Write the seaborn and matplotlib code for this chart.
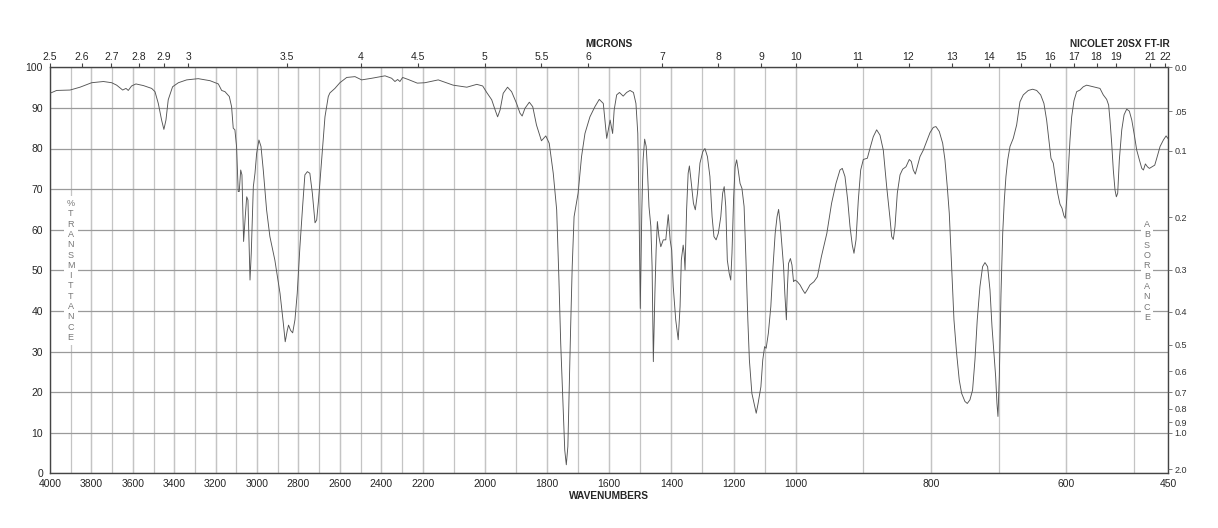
import numpy as np
import pandas as pd
import matplotlib
matplotlib.use("Agg")
import matplotlib.pyplot as plt
import seaborn as sns

# spectrum (cm-1, %T)
wavenumber = [
    4000, 3968, 3903, 3855, 3799, 3742, 3702, 3678, 3649, 3633, 3622, 3606, 3585, 3549,
    3509, 3493, 3477, 3461, 3450, 3440, 3429, 3408, 3380, 3340, 3284, 3227, 3187, 3171,
    3155, 3134, 3123, 3115, 3107, 3099, 3091, 3086, 3079, 3073, 3065, 3057, 3050, 3044,
    3034, 3028, 3018, 3010, 3002, 2991, 2981, 2970, 2954, 2938, 2914, 2889, 2873, 2864,
    2854, 2848, 2838, 2828, 2817, 2806, 2793, 2780, 2769, 2757, 2745, 2733, 2720, 2712,
    2703, 2688, 2672, 2656, 2648, 2624, 2600, 2567, 2527, 2495, 2446, 2382, 2350, 2334,
    2321, 2310, 2297, 2270, 2226, 2193, 2150, 2102, 2058, 2026, 2007, 1994, 1978, 1967,
    1959, 1951, 1941, 1927, 1914, 1898, 1887, 1880, 1871, 1857, 1846, 1834, 1818, 1804,
    1793, 1780, 1769, 1762, 1756, 1748, 1743, 1738, 1733, 1729, 1724, 1719, 1713, 1700,
    1689, 1678, 1662, 1646, 1632, 1619, 1608, 1597, 1589, 1584, 1576, 1567, 1555, 1544,
    1533, 1522, 1514, 1508, 1504, 1500, 1495, 1491, 1486, 1481, 1477, 1472, 1466, 1462,
    1458, 1453, 1449, 1445, 1440, 1434, 1426, 1418, 1410, 1404, 1399, 1394, 1386, 1378,
    1372, 1368, 1362, 1359, 1356, 1351, 1346, 1342, 1337, 1329, 1323, 1316, 1308, 1299,
    1292, 1284, 1276, 1269, 1263, 1256, 1249, 1241, 1235, 1230, 1225, 1220, 1214, 1209,
    1205, 1200, 1195, 1190, 1185, 1179, 1173, 1166, 1160, 1154, 1149, 1141, 1134, 1127,
    1121, 1112, 1106, 1100, 1095, 1088, 1080, 1073, 1066, 1060, 1055, 1050, 1044, 1039,
    1035, 1030, 1027, 1023, 1017, 1012, 1007, 1002, 997.6, 993.6, 989.7, 986.3, 982.9,
    978.9, 973, 968, 962, 954, 947, 940.5, 934.6, 931.2, 927.2, 923.2, 919.8, 916.4,
    913.9, 910.9, 907.5, 904, 900.1, 894.2, 890.3, 885.4, 880.4, 875.5, 870.6, 865.6,
    860.7, 858.2, 855.8, 853.3, 849.9, 845.9, 842.0, 837.1, 832.2, 829.2, 826.3, 823.3,
    820.4, 816.4, 811.5, 806.6, 801.6, 796.7, 792.8, 787.9, 782.9, 779.5, 776.1, 773.1,
    769.6, 766.2, 762.3, 758.4, 754.9, 750.0, 746.5, 742.6, 738.7, 735.2, 731.8, 727.8,
    723.9, 720.4, 716.5, 713.0, 710.0, 707.1, 704.6, 702.7, 701.2, 699.2, 696.7, 694.2,
    691.8, 689.4, 686.8, 683.4, 678.6, 673.6, 668.7, 663.8, 656.4, 650.0, 644.0, 638.1,
    633.3, 629.3, 625.4, 622.9, 619.5, 616.0, 613.0, 609.6, 606.6, 603.7, 601.8, 599.7,
    597.3, 594.8, 592.3, 588.9, 584.9, 580.0, 575.2, 570.2, 565.3, 560.4, 555.5, 550.5,
    545.6, 540.6, 537.7, 535.7, 533.2, 530.8, 528.3, 526.3, 524.3, 521.9, 518.3, 514.9,
    511.0, 507.1, 503.5, 500.1, 496.2, 492.3, 488.7, 486.3, 483.4, 480.4, 477.5, 473.5,
    469.6, 466.6, 461.7, 456.8, 452.8, 450.3,
]
transmittance = [
    93.6, 94.3, 94.4, 95.1, 96.2, 96.5, 96.2, 95.6, 94.4, 94.8, 94.3, 95.4, 95.9, 95.5,
    94.8, 94.0, 91.1, 87.0, 84.7, 87.0, 92.0, 95.2, 96.2, 96.9, 97.2, 96.7, 95.9, 94.3,
    94.0, 92.8, 90.3, 85.0, 84.6, 80.5, 69.4, 69.4, 74.7, 73.5, 57.1, 63.2, 68.1, 67.3,
    47.6, 54.2, 70.6, 73.9, 78.8, 82.1, 80.5, 74.7, 64.9, 58.3, 52.5, 44.3, 36.9, 32.4,
    35.2, 36.5, 35.2, 34.6, 37.8, 44.3, 55.8, 65.7, 73.5, 74.3, 73.9, 69.0, 61.7, 62.4,
    67.3, 77.2, 87.8, 92.8, 93.7, 94.8, 96.2, 97.5, 97.7, 96.9, 97.3, 97.9, 97.3, 96.5,
    97.0, 96.5, 97.5, 97.0, 96.1, 96.2, 96.9, 95.6, 95.1, 95.8, 95.4, 93.8, 92.0, 89.5,
    87.8, 89.5, 93.6, 95.1, 94.0, 91.1, 88.7, 88.0, 89.9, 91.4, 90.3, 85.8, 81.9, 83.1,
    81.3, 73.9, 64.9, 48.4, 32.0, 15.6, 5.7, 2.1, 6.6, 19.7, 36.1, 50.9, 63.2, 69.0,
    78.0, 83.7, 87.8, 90.3, 92.1, 91.1, 82.5, 87.0, 83.7, 89.5, 93.2, 93.8, 92.9, 93.8,
    94.3, 93.8, 91.1, 83.7, 64.9, 40.6, 64.9, 77.2, 82.3, 80.5, 74.7, 65.7, 60.8, 50.9,
    27.5, 44.3, 55.0, 62.0, 58.3, 55.8, 57.5, 57.5, 63.7, 57.5, 55.0, 46.0, 37.8, 32.9,
    41.1, 52.5, 56.2, 54.2, 50.1, 64.9, 73.9, 75.7, 72.3, 66.5, 64.9, 69.0, 76.4, 79.2,
    80.0, 78.0, 73.1, 63.2, 58.3, 57.5, 59.1, 63.2, 69.0, 70.6, 65.7, 52.5, 49.3, 47.6,
    54.2, 67.2, 75.5, 77.2, 74.7, 71.4, 70.2, 65.7, 52.5, 37.8, 27.9, 19.7, 17.2, 14.8,
    17.2, 21.3, 27.9, 31.2, 30.8, 34.5, 41.1, 50.9, 59.1, 63.2, 65.0, 61.6, 55.8, 50.9,
    44.3, 37.8, 45.2, 51.7, 52.9, 51.3, 47.2, 47.6, 47.2, 46.4, 45.2, 44.3, 45.2,
    46.4, 47.2, 48.4, 53.4, 59.1, 66.5, 71.4, 74.7, 75.1, 73.1, 67.3, 60.8, 56.2,
    54.2, 57.5, 67.3, 74.7, 77.3, 77.6, 80.0, 82.9, 84.6, 83.3, 79.6, 70.6,
    62.8, 58.3, 57.6, 60.8, 69.0, 73.5, 74.9, 75.5, 77.3, 76.8, 74.7, 73.7,
    75.5, 78.0, 79.6, 81.7, 83.9, 85.2, 85.4, 84.2, 81.3, 77.2, 70.6, 64.0,
    50.9, 37.8, 29.6, 23.0, 19.7, 17.7, 17.2, 18.1, 20.5, 27.9, 37.8, 46.0,
    50.9, 51.9, 50.9, 45.2, 36.1, 29.6, 23.8, 17.2, 14.0, 23.8, 44.3, 59.1,
    67.3, 73.1, 77.2, 80.5, 82.5, 85.8, 91.5, 93.2, 94.3, 94.6, 94.3, 93.2,
    91.1, 87.0, 81.3, 77.6, 76.4, 72.3, 69.0, 66.3, 65.3, 63.4, 62.8, 67.3,
    74.7, 82.1, 87.8, 91.8, 94.0, 94.4, 95.2, 95.6, 95.4, 95.2, 95.0, 94.8,
    93.2, 92.1, 90.7, 87.0, 81.3, 74.7, 69.8, 68.1, 69.0, 77.2, 84.6, 88.3,
    89.7, 89.2, 87.0, 83.7, 79.6, 77.2, 75.1, 74.7, 76.2, 75.5, 75.1, 75.5,
    75.9, 77.6, 80.5, 82.1, 83.1, 82.5,
]

wavenumber_ticks = [4000, 3800, 3600, 3400, 3200, 3000, 2800, 2600, 2400, 2200,
                    2000, 1800, 1600, 1400, 1200, 1000, 800, 600, 450]
micron_ticks = [2.5, 2.6, 2.7, 2.8, 2.9, 3, 3.5, 4, 4.5, 5, 5.5, 6, 7, 8, 9, 10,
                11, 12, 13, 14, 15, 16, 17, 18, 19, 21, 22]
absorbance_ticks = [0.0, 0.05, 0.1, 0.2, 0.3, 0.4, 0.5, 0.6, 0.7, 0.8, 0.9, 1.0, 2.0]
absorbance_labels = ["0.0", ".05", "0.1", "0.2", "0.3", "0.4", "0.5", "0.6",
                     "0.7", "0.8", "0.9", "1.0", "2.0"]

df = pd.DataFrame({"wavenumber": wavenumber, "transmittance": transmittance})

# chart paper is expanded in three linear pieces (breaks at 2200 and 1000 cm-1)
wn_knots = [450, 1000, 2200, 4000]
pos_knots = [0, 372.3, 745.3, 1118]


def fwd(w):
    return np.interp(w, wn_knots, pos_knots)


def inv(p):
    return np.interp(p, pos_knots, wn_knots)


sns.set_style("white")
plt.rcParams['font.family'] = ['Liberation Sans', 'DejaVu Sans']
W, H = 1218, 528
fig = plt.figure(figsize=(W / 100, H / 100), dpi=100)
ax = fig.add_axes([50 / W, 1 - 473.3 / H, 1118 / W, 406 / H])

sns.lineplot(data=df, x="wavenumber", y="transmittance", sort=False, estimator=None,
             color="#555555", lw=0.65, ax=ax, zorder=3)

ax.set_xscale("function", functions=(fwd, inv))
ax.set_xlim(4000, 450)
ax.set_ylim(0, 100)
ax.set_xticks(wavenumber_ticks)
ax.set_xticklabels([str(t) for t in wavenumber_ticks])
ax.set_xticks(list(range(500, 4000, 100)), minor=True)
ax.xaxis.remove_overlapping_locs = False
ax.set_yticks(range(0, 101, 10))
ax.set_xlabel("")
ax.set_ylabel("")
ax.grid(axis="x", which="both", color="#c4c4c4", lw=0.9)
ax.grid(axis="y", which="major", color="#9a9a9a", lw=0.9)
ax.tick_params(axis="x", which="both", length=0, pad=4, labelsize=7.5)
ax.tick_params(axis="y", length=0, pad=5, labelsize=7.5)
for s in ax.spines.values():
    s.set_color("#444444")
    s.set_linewidth(1.0)

# microns on top
top = ax.twiny()
top.set_xscale("function", functions=(fwd, inv))
top.set_xlim(4000, 450)
top.set_xticks([10000 / m for m in micron_ticks])
top.set_xticklabels([f"{m:g}" for m in micron_ticks])
top.tick_params(axis="x", length=3, width=0.8, color="#444444", pad=1, labelsize=7.5)
top.xaxis.set_minor_locator(plt.NullLocator())
top.grid(False)

# absorbance on the right
right = ax.twinx()
right.set_ylim(0, 100)
right.set_yticks([100 * 10 ** (-a) for a in absorbance_ticks])
right.set_yticklabels(absorbance_labels)
right.tick_params(axis="y", length=3, width=0.6, color="#666666", pad=1.5,
                  labelsize=6.5, labelcolor="#333333")
right.grid(False)
for a in (top, right):
    for s in a.spines.values():
        s.set_visible(False)

fig.text(609 / W, 1 - 44 / H, "MICRONS", ha="center", va="center",
         fontsize=7.3, fontweight="bold")
fig.text(1120 / W, 1 - 44 / H, "NICOLET 20SX FT-IR", ha="center", va="center",
         fontsize=7.3, fontweight="bold")
fig.text(609 / W, 1 - 496 / H, "WAVENUMBERS", ha="center", va="center",
         fontsize=7.3, fontweight="bold")

box = dict(facecolor="white", edgecolor="none", pad=2)
fig.text(70.7 / W, 1 - 270.5 / H, "\n".join("%TRANSMITTANCE"), ha="center", va="center",
         fontsize=6.5, color="#777777", linespacing=1.19, bbox=box, zorder=5)
fig.text(1147 / W, 1 - 271 / H, "\n".join("ABSORBANCE"), ha="center", va="center",
         fontsize=6.5, color="#777777", linespacing=1.19, bbox=box, zorder=5)

fig.savefig("out.png", dpi=100)
